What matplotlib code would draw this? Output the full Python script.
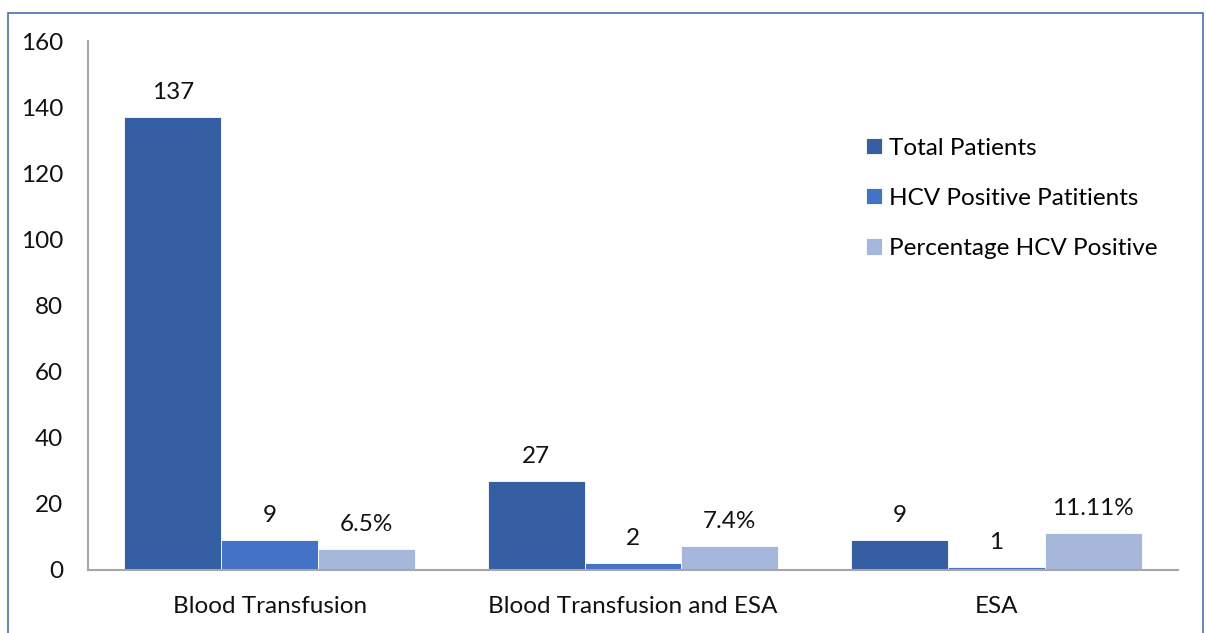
import matplotlib.pyplot as plt
import numpy as np
from matplotlib.patches import Rectangle

categories = ["Blood Transfusion", "Blood Transfusion and ESA", "ESA"]
total_patients = [137, 27, 9]
hcv_positive = [9, 2, 1]
pct_positive = [6.5, 7.4, 11.11]
pct_labels = ["6.5%", "7.4%", "11.11%"]
series_names = ["Total Patients", "HCV Positive Patitients", "Percentage HCV Positive"]
colors = ["#365FA3", "#4472C4", "#A7B6DB"]
yticks = [0, 20, 40, 60, 80, 100, 120, 140, 160]

plt.rcParams['font.family'] = ['Lato', 'DejaVu Sans']
FS = 17.5

fig = plt.figure(figsize=(12.06, 6.33), dpi=100)
fig.patches.append(Rectangle((8/1206, -0.1), (1203-8)/1206, 1.1 - 13/633, transform=fig.transFigure,
                             fill=False, edgecolor="#4A6FAE", linewidth=1.2))
ax = fig.add_axes([88/1206, 63/633, (1178-88)/1206, (570-41)/633])

x = np.arange(len(categories))
w = 0.8 / 3
series = [total_patients, hcv_positive, pct_positive]
labels = [[str(v) for v in total_patients], [str(v) for v in hcv_positive], pct_labels]
for i, (vals, lab) in enumerate(zip(series, labels)):
    bars = ax.bar(x + (i - 1) * w, vals, w, color=colors[i], edgecolor="white", linewidth=0.6,
                  label=series_names[i], zorder=2)
    for b, t in zip(bars, lab):
        ax.annotate(t, (b.get_x() + b.get_width() / 2, b.get_height()), xytext=(0, 10),
                    textcoords="offset points", ha="center", va="bottom", fontsize=FS, color="#111111")

ax.set_xlim(-0.5, 2.5)
ax.set_ylim(0, 160)
ax.set_yticks(yticks)
ax.set_xticks(x)
ax.set_xticklabels(categories)
ax.tick_params(axis='both', length=0, labelsize=FS, colors="#111111")
ax.tick_params(axis='y', pad=18)
ax.tick_params(axis='x', pad=19)
for s in ["top", "right"]:
    ax.spines[s].set_visible(False)
for s in ["left", "bottom"]:
    ax.spines[s].set_color("#A6A6A6")
    ax.spines[s].set_linewidth(1.5)

ax.legend(loc="upper left", bbox_to_anchor=((856 - 88) / 1090, (570 - 128) / 529), frameon=False,
          fontsize=FS, handlelength=0.65, handleheight=0.65, handletextpad=0.3, labelspacing=1.2,
          borderaxespad=0)

fig.savefig("out.png", dpi=100)
